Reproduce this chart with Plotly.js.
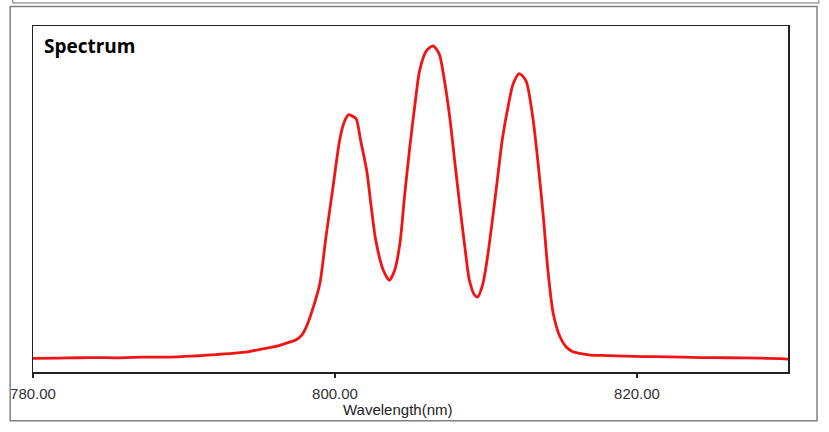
<!DOCTYPE html>
<html>
<head>
<meta charset="utf-8">
<script src="https://cdn.plot.ly/plotly-3.0.1.min.js"></script>
<style>html,body{margin:0;padding:0;background:#fff;}#chart{width:829px;height:432px;}</style>
</head>
<body>
<div id="chart"></div>
<script>
// Spectrum data (wavelength in nm, intensity in arbitrary units)
const wavelength = [780.0, 781.7, 783.0, 784.4, 785.5, 786.6, 787.8, 789.0, 790.0, 791.0, 792.1, 793.2, 794.3, 795.4, 796.3, 797.0, 797.4, 797.8, 798.1, 798.5, 799.0, 799.4, 799.9, 800.3, 800.6, 800.9, 801.1, 801.4, 801.7, 802.1, 802.4, 802.7, 803.2, 803.6, 803.95, 804.3, 804.6, 804.95, 805.3, 805.6, 806.05, 806.5, 806.9, 807.25, 807.6, 807.9, 808.25, 808.6, 808.9, 809.25, 809.45, 809.8, 810.1, 810.45, 810.8, 811.1, 811.45, 811.8, 812.2, 812.65, 813.1, 813.45, 813.8, 814.1, 814.45, 814.9, 815.3, 815.75, 816.2, 816.9, 818.0, 820.4, 822.0, 824.2, 826.0, 828.0, 830.0];
const intensity = [13.7, 14, 14.3, 14.5, 14.2, 14.7, 14.9, 15, 15.6, 16.3, 17.5, 18.7, 20.5, 23.7, 26.5, 30, 32, 37, 45.3, 62, 89, 135.3, 189, 232, 250.3, 258, 257, 254, 232, 202, 165.3, 132, 102, 92, 102, 129, 175.3, 225.3, 269, 302, 322, 327, 319, 292, 255.3, 215.3, 169, 125.3, 92, 77, 75.3, 89, 115.3, 155.3, 199, 235.3, 265.3, 289, 299.3, 292, 255.3, 209, 155.3, 102, 59, 35.3, 25.3, 20.3, 18.7, 17, 16.5, 15.5, 15.2, 14.5, 14.3, 14, 13];
const tickValues = [780, 800, 820];
const tickLabels = ["780.00", "800.00", "820.00"];
const chartTitle = "Spectrum";
const xTitle = "Wavelength(nm)";

// pixel-to-paper helpers for the decorative frame
const L = 33.3, R = 788.3, T = 25.5, B = 372.5;
const px = v => (v - L) / (R - L);
const py = v => (B - v) / (B - T);

const trace = {
  x: wavelength,
  y: intensity,
  type: 'scatter',
  mode: 'lines',
  line: {color: '#f01414', width: 2.8, shape: 'spline', smoothing: 0.7},
  hoverinfo: 'skip'
};

const layout = {
  width: 829,
  height: 432,
  margin: {l: L, r: 829 - R, t: T, b: 432 - B, pad: 0},
  paper_bgcolor: '#ffffff',
  plot_bgcolor: '#ffffff',
  showlegend: false,
  hovermode: false,
  xaxis: {
    range: [780, 830],
    tickmode: 'array',
    tickvals: tickValues,
    ticktext: tickLabels,
    ticks: 'outside',
    ticklen: 4,
    tickwidth: 1.5,
    tickcolor: '#222',
    ticklabelstandoff: 3,
    showline: true,
    mirror: true,
    linecolor: '#222',
    linewidth: 1.5,
    showgrid: false,
    zeroline: false,
    tickfont: {family: 'Liberation Sans, Arial, sans-serif', size: 15, color: '#333'}
  },
  yaxis: {
    range: [0, 347],
    showticklabels: false,
    ticks: '',
    showline: true,
    mirror: true,
    linecolor: '#222',
    linewidth: 1.5,
    showgrid: false,
    zeroline: false
  },
  annotations: [
    {
      text: chartTitle, xref: 'paper', yref: 'paper',
      x: px(42), y: py(45.5), xanchor: 'left', yanchor: 'middle', showarrow: false,
      font: {family: 'Open Sans, sans-serif', size: 19, color: '#000', weight: 'bold'}
    },
    {
      text: xTitle, xref: 'paper', yref: 'paper',
      x: px(397.5), y: py(410), xanchor: 'center', yanchor: 'middle', showarrow: false,
      font: {family: 'Liberation Sans, Arial, sans-serif', size: 15, color: '#222'}
    }
  ],
  shapes: [
    {
      type: 'rect', xref: 'paper', yref: 'paper',
      x0: px(10.5), x1: px(817.3), y0: py(421.5), y1: py(6),
      line: {color: 'rgb(128,128,128)', width: 1.5}
    },
    {
      type: 'path', xref: 'paper', yref: 'paper',
      path: 'M ' + px(13) + ' ' + py(-2) + ' L ' + px(13) + ' ' + py(2.5) + ' L ' + px(819) + ' ' + py(2.5) + ' L ' + px(819) + ' ' + py(-2),
      line: {color: 'rgb(160,160,160)', width: 1.5}
    }
  ]
};

Plotly.newPlot('chart', [trace], layout, {displayModeBar: false, staticPlot: true});
</script>
</body>
</html>
